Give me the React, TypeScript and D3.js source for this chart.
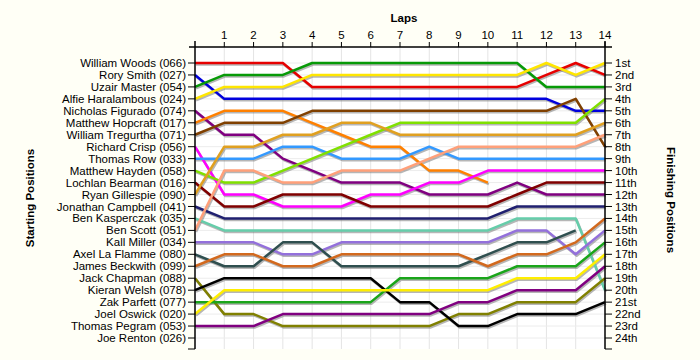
import React from 'react';
import * as d3 from 'd3';

const drivers = [
  'William Woods (066)', 'Rory Smith (027)', 'Uzair Master (054)', 'Alfie Haralambous (024)',
  'Nicholas Figurado (074)', 'Matthew Hopcraft (017)', 'William Tregurtha (071)', 'Richard Crisp (056)',
  'Thomas Row (033)', 'Matthew Hayden (058)', 'Lochlan Bearman (016)', 'Ryan Gillespie (090)',
  'Jonathan Campbell (041)', 'Ben Kasperczak (035)', 'Ben Scott (051)', 'Kall Miller (034)',
  'Axel La Flamme (080)', 'James Beckwith (099)', 'Jack Chapman (088)', 'Kieran Welsh (078)',
  'Zak Parfett (077)', 'Joel Oswick (020)', 'Thomas Pegram (053)', 'Joe Renton (026)',
];

// positions per lap (lap 0 .. last lap completed)
const woods = [1, 1, 1, 1, 3, 3, 3, 3, 3, 3, 3, 3, 2, 1, 2];
const smith = [2, 4, 4, 4, 4, 4, 4, 4, 4, 4, 4, 4, 4, 5, 5];
const master = [3, 2, 2, 2, 1, 1, 1, 1, 1, 1, 1, 1, 3, 3, 3];
const haralambous = [4, 3, 3, 3, 2, 2, 2, 2, 2, 2, 2, 2, 1, 2, 1];
const figurado = [5, 7, 7, 9, 10, 11, 11, 11, 12, 12, 12, 11, 12, 12, 12];
const hopcraft = [6, 5, 5, 5, 6, 7, 8, 8, 10, 10, 11];
const tregurtha = [7, 6, 6, 6, 5, 5, 5, 5, 5, 5, 5, 5, 5, 4, 8];
const crisp = [8, 12, 12, 13, 13, 13, 12, 12, 11, 11, 10, 10, 10, 10, 10];
const row = [9, 9, 9, 8, 8, 9, 9, 9, 8, 9, 9, 9, 9, 9, 9];
const hayden = [10, 11, 11, 10, 9, 8, 7, 6, 6, 6, 6, 6, 6, 6, 4];
const bearman = [11, 13, 13, 12, 12, 12, 13, 13, 13, 13, 13, 12, 11, 11, 11];
const gillespie = [12, 8, 8, 7, 7, 6, 6, 7, 7, 7, 7, 7, 7, 7, 6];
const campbell = [13, 14, 14, 14, 14, 14, 14, 14, 14, 14, 14, 13, 13, 13, 13];
const kasperczak = [14, 15, 15, 15, 15, 15, 15, 15, 15, 15, 15, 14, 14, 14, 20];
const scott = [15, 10, 10, 11, 11, 10, 10, 10, 9, 8, 8, 8, 8, 8, 7];
const miller = [16, 16, 16, 17, 17, 16, 16, 16, 16, 16, 16, 15, 15, 17, 15];
const laFlamme = [17, 18, 18, 16, 16, 18, 18, 18, 18, 18, 17, 16, 16, 15];
const beckwith = [18, 17, 17, 18, 18, 17, 17, 17, 17, 17, 18, 17, 17, 16, 14];
const chapman = [19, 22, 22, 23, 23, 23, 23, 23, 23, 22, 22, 21, 21, 21, 19];
const welsh = [20, 19, 19, 19, 19, 19, 19, 21, 21, 23, 23, 22, 22, 22, 21];
const parfett = [21, 21, 21, 21, 21, 21, 21, 19, 19, 19, 19, 18, 18, 18, 16];
const oswick = [22, 20, 20, 20, 20, 20, 20, 20, 20, 20, 20, 19, 19, 19, 17];
const pegram = [23, 23, 23, 22, 22, 22, 22, 22, 22, 21, 21, 20, 20, 20, 18];
const renton: number[] = [];

const series = [
  woods, smith, master, haralambous, figurado, hopcraft, tregurtha, crisp,
  row, hayden, bearman, gillespie, campbell, kasperczak, scott, miller,
  laFlamme, beckwith, chapman, welsh, parfett, oswick, pegram, renton,
];

const colors = [
  '#e60000', '#0000dd', '#079a07', '#ffe600', '#800080', '#ff8000', '#804000', '#ff00ff',
  '#3399ff', '#80e000', '#800000', '#e0a020', '#202070', '#66cdaa', '#ffa07a', '#9370db',
  '#2f4f4f', '#d2691e', '#808000', '#000000', '#1aa51a', '#ffee00', '#800080', '#888888',
];

const lapTicks = [1, 2, 3, 4, 5, 6, 7, 8, 9, 10, 11, 12, 13, 14];
const finishLabels = [
  '1st', '2nd', '3rd', '4th', '5th', '6th', '7th', '8th', '9th', '10th', '11th', '12th',
  '13th', '14th', '15th', '16th', '17th', '18th', '19th', '20th', '21st', '22nd', '23rd', '24th',
];

export default function App() {
  const W = 700, H = 360;
  const x = d3.scaleLinear().domain([0, 14]).range([195, 605]);
  const y = d3.scaleLinear().domain([1, 24]).range([63, 338]);
  const top = 47, bottom = 349;
  const line = d3.line<number>().x((_, i) => x(i)).y((d) => y(d));
  const posIdx = d3.range(1, 25);
  const font = '"Liberation Sans", Arial, sans-serif';

  return (
    <svg width={W} height={H} style={{ position: 'absolute', left: 0, top: 0, display: 'block' }}
      fontFamily={font}>
      <rect x={0} y={0} width={W} height={H} fill="#fffff6" />
      <rect x={x(0)} y={top} width={x(14) - x(0)} height={bottom - top} fill="#ffffff" />
      {/* grid */}
      {lapTicks.slice(0, 13).map((l) => (
        <line key={'gx' + l} x1={x(l)} x2={x(l)} y1={top} y2={bottom} stroke="#e4e4e4" strokeWidth={1} />
      ))}
      {posIdx.map((p) => (
        <line key={'gy' + p} x1={x(0)} x2={x(14)} y1={y(p)} y2={y(p)} stroke="#ececec" strokeWidth={1} />
      ))}
      {/* shadows */}
      {series.map((s, i) => s.length > 1 && (
        <path key={'sh' + i} d={line(s) || ''} fill="none" stroke="#7a7a7a" strokeOpacity={0.55}
          strokeWidth={2.5} transform="translate(1,1.5)" strokeLinejoin="round" />
      ))}
      {series.map((s, i) => s.length > 1 && (
        <path key={'ln' + i} d={line(s) || ''} fill="none" stroke={colors[i]}
          strokeWidth={2.5} strokeLinejoin="round" />
      ))}
      {/* axes */}
      <line x1={189} x2={612} y1={top} y2={top} stroke="#000" strokeWidth={1.5} />
      <line x1={x(0)} x2={x(0)} y1={top - 6} y2={bottom} stroke="#000" strokeWidth={1.5} />
      <line x1={x(14)} x2={x(14)} y1={top - 6} y2={bottom} stroke="#000" strokeWidth={1.5} />
      {lapTicks.map((l) => (
        <g key={'lt' + l}>
          <line x1={x(l)} x2={x(l)} y1={top - 5} y2={top} stroke="#000" />
          <text x={x(l)} y={top - 8} textAnchor="middle" fontSize={11.5} fill="#000">{l}</text>
        </g>
      ))}
      {posIdx.map((p, i) => (
        <g key={'pt' + p}>
          <line x1={x(0) - 7} x2={x(0)} y1={y(p)} y2={y(p)} stroke="#000" />
          <text x={x(0) - 9} y={y(p)} dy="0.35em" textAnchor="end" fontSize={11.5} fill="#000">{drivers[i]}</text>
          <line x1={x(14)} x2={x(14) + 7} y1={y(p)} y2={y(p)} stroke="#000" />
          <text x={x(14) + 10} y={y(p)} dy="0.35em" textAnchor="start" fontSize={11.5} fill="#000">{finishLabels[i]}</text>
        </g>
      ))}
      <line x1={x(0) - 7} x2={x(0)} y1={bottom} y2={bottom} stroke="#000" />
      <line x1={x(14)} x2={x(14) + 7} y1={bottom} y2={bottom} stroke="#000" />
      <text x={404} y={22} textAnchor="middle" fontSize={11.5} fontWeight="bold">Laps</text>
      <text transform={`translate(34,198) rotate(-90)`} textAnchor="middle" fontSize={11.5} fontWeight="bold">Starting Positions</text>
      <text transform={`translate(667,200) rotate(90)`} textAnchor="middle" fontSize={11.5} fontWeight="bold">Finishing Positions</text>
    </svg>
  );
}
